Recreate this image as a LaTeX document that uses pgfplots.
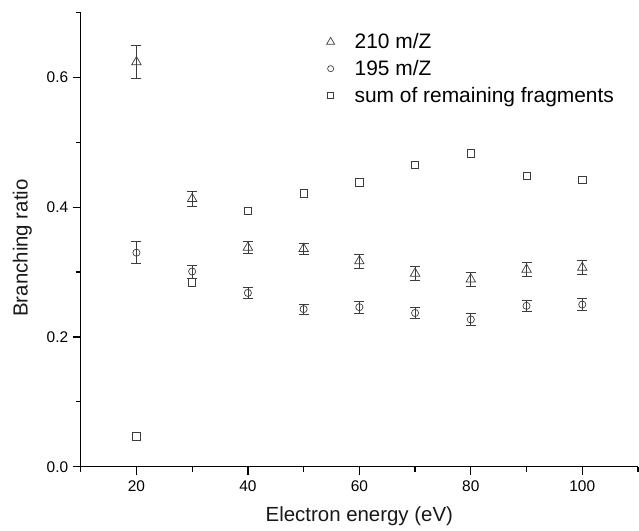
\documentclass[border=0pt]{standalone}
\usepackage{fontspec}
\setmainfont{Liberation Sans}
\usepackage{pgfplots}
\pgfplotsset{compat=1.18}
\definecolor{markgray}{HTML}{3C3C3C}

\pgfplotstableread{
x    y      e
20   0.624  0.025
30   0.413  0.011
40   0.338  0.009
50   0.336  0.009
60   0.317  0.011
70   0.298  0.011
80   0.289  0.011
90   0.304  0.011
100  0.307  0.011
}\mzten
\pgfplotstableread{
x    y      e
20   0.330  0.017
30   0.301  0.010
40   0.268  0.008
50   0.243  0.008
60   0.246  0.009
70   0.237  0.009
80   0.227  0.009
90   0.248  0.009
100  0.250  0.009
}\mzninefive
\pgfplotstableread{
x    y
20   0.047
30   0.284
40   0.394
50   0.4215
60   0.4385
70   0.465
80   0.483
90   0.448
100  0.442
}\remaining

\begin{document}
\begin{tikzpicture}
\begin{axis}[
    name=ax,
    scale only axis,
    width=557.3bp, height=454bp,
    xmin=10, xmax=110,
    ymin=0, ymax=0.7,
    axis x line=bottom, axis y line=left,
    axis line style={-, line width=1.3bp, black},
    xtick={20,40,60,80,100},
    minor xtick={10,30,50,70,90,110},
    ytick={0,0.2,0.4,0.6},
    minor ytick={0.1,0.3,0.5,0.7},
    tick align=outside,
    major tick length=8bp,
    minor tick length=5bp,
    every tick/.style={line width=1.3bp, black},
    yticklabel style={/pgf/number format/fixed, /pgf/number format/fixed zerofill,
        /pgf/number format/precision=1, xshift=-1bp},
    /pgf/number format/assume math mode=true,
    tick label style={font=\fontsize{15.5}{18}\selectfont, text=black},
    xticklabel style={yshift=-2bp},
    xlabel={Electron energy (eV)},
    ylabel={Branching ratio},
    label style={font=\fontsize{20.5}{24}\selectfont, text=black!90},
    xlabel style={at={(axis description cs:0.5,-0.1211)}, anchor=base},
    ylabel style={at={(axis description cs:-0.0951,0.4817)}, anchor=base},
    legend style={at={(axis description cs:0.432,0.963)}, anchor=north west,
        draw=none, fill=none, font=\fontsize{21}{24}\selectfont,
        row sep=6bp},
    legend cell align=left,
    legend image code/.code={%
        \path[draw=none, fill=none] (-6bp,0) -- (22bp,0);
        \draw[#1, mark size=0.85*\pgfplotmarksize] plot coordinates {(0,0)};},
    clip=false,
]
\addplot[only marks, mark=triangle, mark size=5.5pt, markgray, line width=0.7bp,
    error bars/.cd, y dir=both, y explicit,
    error bar style={line width=0.7bp, markgray},
    error mark options={rotate=90, mark size=5pt, line width=0.7bp, markgray}]
    table[x=x, y=y, y error=e]{\mzten};
\addlegendentry{210 m/Z}
\addplot[only marks, mark=o, mark size=3.6pt, markgray, line width=0.7bp,
    error bars/.cd, y dir=both, y explicit,
    error bar style={line width=0.7bp, markgray},
    error mark options={rotate=90, mark size=5pt, line width=0.7bp, markgray}]
    table[x=x, y=y, y error=e]{\mzninefive};
\addlegendentry{195 m/Z}
\addplot[only marks, mark=square, mark size=3.7pt, markgray, line width=0.7bp]
    table[x=x, y=y]{\remaining};
\addlegendentry{sum of remaining fragments}
\end{axis}
\pgfresetboundingbox
\path (ax.south west) ++(-80.7bp,-64.3bp) rectangle ++(639bp,531bp);
\end{tikzpicture}
\end{document}
